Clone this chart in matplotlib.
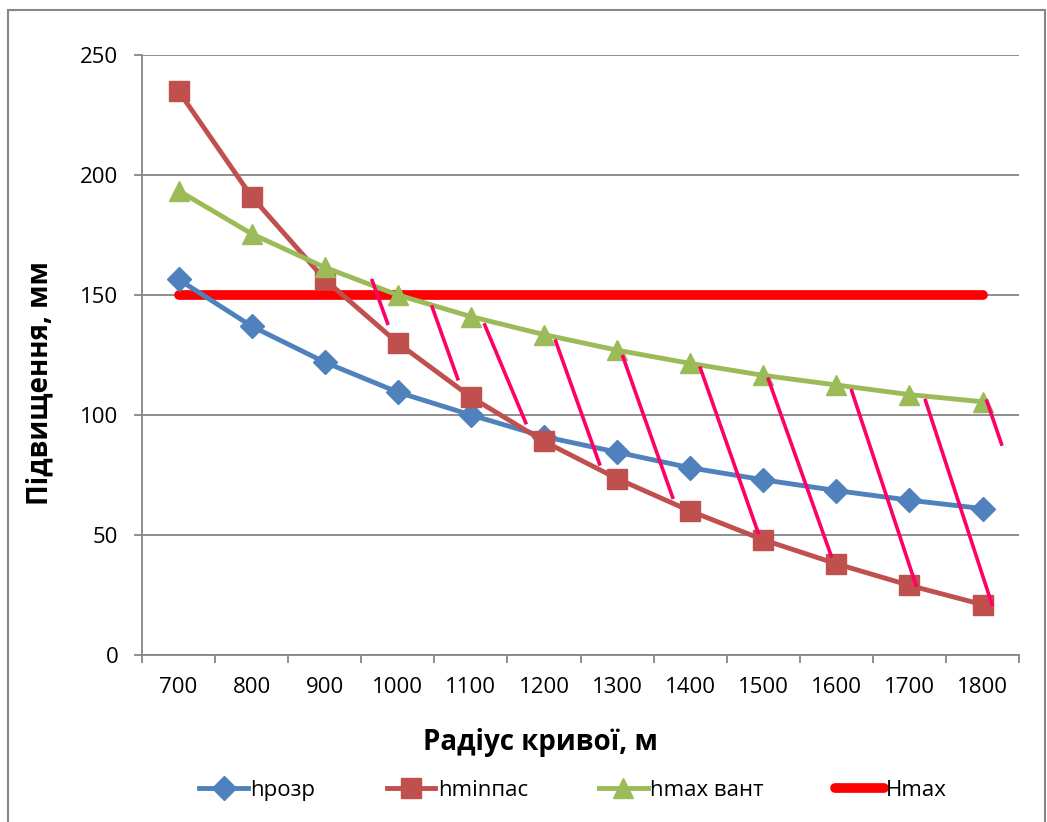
import numpy as np
import matplotlib.pyplot as plt
from matplotlib.patches import Rectangle

plt.rcParams['font.family'] = ['Open Sans', 'DejaVu Sans']

# data
radius = [700, 800, 900, 1000, 1100, 1200, 1300, 1400, 1500, 1600, 1700, 1800]
h_rozr = [156.5, 137, 122, 109.5, 100, 91, 84.5, 78, 73, 68.5, 64.5, 61]
h_min_pas = [235, 191, 156.5, 130, 107.5, 89, 73.5, 60, 48, 38, 29, 21]
h_max_vant = [193.5, 175.5, 161.5, 150, 141, 133.5, 127, 121.5, 116.5, 112.5, 108.5, 105.5]
H_max = [150] * 12

# hand-drawn hatch strokes (category position, value)
hatch_x0 = [2.65, 3.47, 4.19, 5.16, 6.08, 7.14, 8.07, 9.21, 10.22, 11.06]
hatch_y0 = [156, 145, 137.5, 130.8, 124.3, 119.5, 114.9, 110.1, 106, 105.8]
hatch_x1 = [2.86, 3.82, 4.75, 5.76, 6.76, 7.93, 8.93, 10.09, 11.13, 11.26]
hatch_y1 = [138.2, 115.1, 96.8, 79.6, 65.7, 51.0, 41.3, 29.1, 21.1, 87.9]

fig = plt.figure(figsize=(10.47, 8.22), dpi=100)
ax = fig.add_axes([0.1356, 0.2032, 0.8377, 0.7299])

x = np.arange(len(radius))
grid_c = '#868686'

ax.plot(x, H_max, color='#FF0000', lw=7, solid_capstyle='round', zorder=2, label='Hmax')
ax.plot(x, h_rozr, color='#4F81BD', lw=3.5, marker='D', ms=12, zorder=3, label='hрозр')
ax.plot(x, h_min_pas, color='#C0504D', lw=3.5, marker='s', ms=14, zorder=3, label='hminпас')
ax.plot(x, h_max_vant, color='#9BBB59', lw=3.5, marker='^', ms=14, zorder=3, label='hmax вант')

for i in range(len(hatch_x0)):
    ax.plot([hatch_x0[i], hatch_x1[i]], [hatch_y0[i], hatch_y1[i]],
            color='#FF0066', lw=2.6, zorder=4)

ax.set_xlim(-0.5, len(radius) - 0.5)
ax.set_ylim(0, 250)
ax.set_yticks(np.arange(0, 251, 50))
ax.yaxis.grid(True, color=grid_c, lw=1.3)
ax.set_axisbelow(True)

ax.set_xticks(x)
ax.set_xticklabels([str(r) for r in radius])
ax.set_xticks(np.arange(-0.5, len(radius)), minor=True)
ax.tick_params(axis='x', which='major', length=0, pad=16, labelsize=16)
ax.tick_params(axis='x', which='minor', length=6, width=1.3, color=grid_c)
ax.tick_params(axis='y', length=6, width=1.3, color=grid_c, pad=11, labelsize=16)

for s in ['top', 'right']:
    ax.spines[s].set_visible(False)
for s in ['left', 'bottom']:
    ax.spines[s].set_color(grid_c)
    ax.spines[s].set_linewidth(1.3)

fig.text(40 / 1047, 1 - 383 / 822, 'Підвищення, мм', rotation=90, fontsize=20,
         fontweight='bold', ha='center', va='center')
fig.text(540 / 1047, 1 - 742 / 822, 'Радіус кривої, м', fontsize=20,
         fontweight='bold', ha='center', va='center')

handles, labels = ax.get_legend_handles_labels()
order = [1, 2, 3, 0]
fig.legend([handles[i] for i in order], [labels[i] for i in order],
           loc='center', bbox_to_anchor=(573 / 1047, 1 - 790 / 822), ncol=4,
           frameon=False, fontsize=16, handlelength=2.2, handletextpad=0.1,
           columnspacing=3.2)

fig.add_artist(Rectangle((8 / 1047, -0.02), 1037 / 1047, 1 - 10 / 822 + 0.02,
                         transform=fig.transFigure, fill=False,
                         edgecolor=grid_c, lw=1.5))

fig.savefig('out.png', dpi=100)
